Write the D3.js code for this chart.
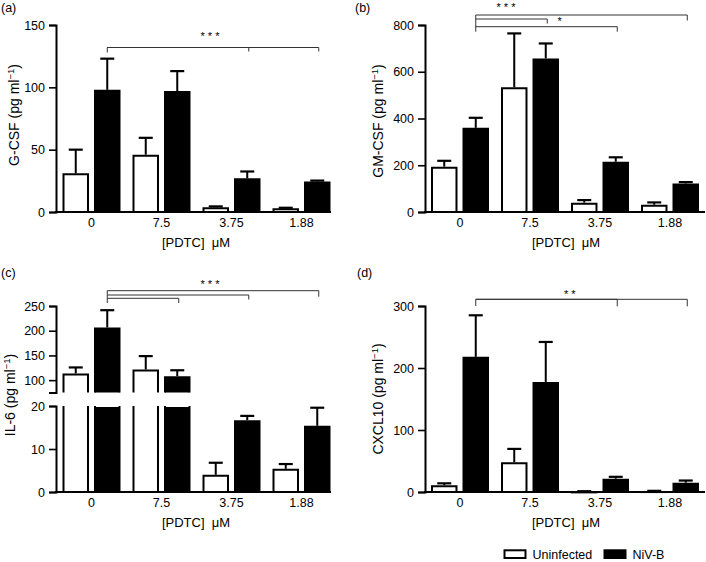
<!DOCTYPE html>
<html><head><meta charset="utf-8">
<script src="https://cdn.jsdelivr.net/npm/d3@7"></script>
<style>
body{margin:0;background:#fff}
svg text{font-family:"Liberation Sans",Arial,Helvetica,sans-serif;fill:#000}
</style>
</head><body>
<svg id="chart" width="706" height="562"></svg>
<script>
// ---------------- data ----------------
const categories = ["0", "7.5", "3.75", "1.88"];
const seriesNames = ["Uninfected", "NiV-B"];

const gcsfUninf    = [31, 46, 3.8, 3];
const gcsfUninfErr = [50, 59.5, 4.5, 3.4];
const gcsfNiv      = [98, 97, 27, 24.5];
const gcsfNivErr   = [123, 113, 32.5, 25.2];
const gcsfTicks    = [0, 50, 100, 150];

const gmcsfUninf    = [194, 534, 40, 31];
const gmcsfUninfErr = [219, 764, 51, 41];
const gmcsfNiv      = [360, 657, 215, 122];
const gmcsfNivErr   = [403, 721, 234, 128];
const gmcsfTicks    = [0, 200, 400, 600, 800];

const il6Uninf    = [113.5, 121.5, 4, 5.4];
const il6UninfErr = [125.7, 148.6, 6.8, 6.5];
const il6Niv      = [206.5, 108, 16.7, 15.4];
const il6NivErr   = [241.5, 120, 17.7, 19.6];
const il6TicksLow  = [0, 10, 20];
const il6TicksHigh = [100, 150, 200, 250];

const cxclUninf    = [10.8, 48, 1, 1.5];
const cxclUninfErr = [14, 69.5, 1.3, 1.9];
const cxclNiv      = [218, 177.5, 21.5, 15];
const cxclNivErr   = [285, 242, 24.5, 18.5];
const cxclTicks    = [0, 100, 200, 300];

// ---------------- drawing ----------------
const svg = d3.select("#chart");
const FONT_TICK = 12.5, FONT_LABEL = 13, FONT_YLABEL = 14;

function drawPanel(cfg) {
  const g = svg.append("g");
  const base = cfg.segments[0].range[0];

  const segs = cfg.segments.map(s => ({
    ...s,
    y: d3.scaleLinear().domain(s.domain).range(s.range)
  }));
  function segFor(v) {
    if (v <= segs[0].domain[1]) return segs[0];
    let s = segs[0];
    segs.forEach(sg => { if (v > sg.domain[0]) s = sg; });
    return s;
  }
  const yOf = v => segFor(v).y(v);

  const x0 = d3.scaleBand().domain(categories)
    .range([cfg.barStart, cfg.barStart + 268]).paddingInner(12 / 70).paddingOuter(0);
  const x1 = d3.scaleBand().domain(seriesNames)
    .range([0, x0.bandwidth()]).paddingInner(0.159).paddingOuter(0);

  const rows = [];
  categories.forEach((c, i) => {
    rows.push({cat: c, s: seriesNames[0], v: cfg.uninf[i], e: cfg.uninfErr[i]});
    rows.push({cat: c, s: seriesNames[1], v: cfg.niv[i], e: cfg.nivErr[i]});
  });

  // error bars
  rows.forEach(r => {
    const cx = x0(r.cat) + x1(r.s) + x1.bandwidth() / 2;
    const yt = yOf(r.v), ye = yOf(r.e);
    g.append("line").attr("x1", cx).attr("x2", cx).attr("y1", yt).attr("y2", ye)
      .attr("stroke", "#000").attr("stroke-width", 2);
    g.append("line").attr("x1", cx - 7).attr("x2", cx + 7).attr("y1", ye).attr("y2", ye)
      .attr("stroke", "#000").attr("stroke-width", 2.2);
  });

  // bars (possibly broken across segments)
  rows.forEach(r => {
    const isWhite = r.s === seriesNames[0];
    const xl = x0(r.cat) + x1(r.s) + 1, xr = xl + x1.bandwidth() - 2;
    segs.forEach((sg, si) => {
      if (r.v <= sg.domain[0] && si > 0) return;
      const topV = Math.min(r.v, sg.domain[1]);
      const yBot = sg.y(sg.domain[0]);
      const yTop = sg.y(topV) + 1;
      const closedTop = r.v <= sg.domain[1];
      g.append("rect").attr("x", xl).attr("y", Math.min(yTop, yBot))
        .attr("width", xr - xl).attr("height", Math.abs(yBot - yTop))
        .attr("fill", isWhite ? "#fff" : "#000");
      const p = d3.path();
      if (closedTop) {
        p.moveTo(xl, yBot); p.lineTo(xl, yTop); p.lineTo(xr, yTop); p.lineTo(xr, yBot);
        if (si === 0) p.closePath();
      } else {
        p.moveTo(xl, yBot); p.lineTo(xl, sg.y(sg.domain[1]));
        p.moveTo(xr, yBot); p.lineTo(xr, sg.y(sg.domain[1]));
      }
      g.append("path").attr("d", p.toString()).attr("fill", "none")
        .attr("stroke", "#000").attr("stroke-width", 2).attr("stroke-linejoin", "miter");
    });
  });

  // y axes
  segs.forEach(sg => {
    const ax = g.append("g").attr("transform", `translate(${cfg.axisX},0)`)
      .call(d3.axisLeft(sg.y).tickValues(sg.ticks).tickSize(7).tickSizeOuter(7).tickPadding(4));
    ax.select(".domain").attr("stroke", "#000").attr("stroke-width", 2);
    ax.selectAll(".tick line").attr("stroke", "#000").attr("stroke-width", 1.6);
    ax.selectAll(".tick text").attr("font-size", FONT_TICK)
      .attr("font-family", '"Liberation Sans",Arial,sans-serif').attr("fill", "#000");
  });

  // x axis
  g.append("line").attr("x1", cfg.axisX - 1).attr("x2", cfg.axisEnd)
    .attr("y1", base).attr("y2", base).attr("stroke", "#000").attr("stroke-width", 2);
  const xa = g.append("g").attr("transform", `translate(0,${base})`)
    .call(d3.axisBottom(x0).tickSize(0).tickPadding(6));
  xa.select(".domain").remove();
  xa.selectAll(".tick text").attr("font-size", FONT_TICK)
    .attr("font-family", '"Liberation Sans",Arial,sans-serif').attr("fill", "#000");

  // x label
  g.append("text").attr("x", cfg.xLabelX).attr("y", base + 35)
    .attr("text-anchor", "middle").attr("font-size", FONT_LABEL)
    .text("[PDTC]\u00a0\u00a0\u03bcM");

  // y label
  const yl = g.append("text")
    .attr("transform", `translate(${cfg.yLabelX},${cfg.yLabelY}) rotate(-90)`)
    .attr("text-anchor", "middle").attr("font-size", FONT_YLABEL);
  yl.append("tspan").text(cfg.yLabel + " (pg ml");
  yl.append("tspan").attr("font-size", 9.5).attr("dy", -5.5).text("\u22121");
  yl.append("tspan").attr("dy", 5.5).text(")");

  // panel letter
  g.append("text").attr("x", cfg.letterX).attr("y", cfg.letterY)
    .attr("font-size", 12.5).text(cfg.letter);

  // significance brackets
  const blackCenter = c => x0(c) + x1(seriesNames[1]) + x1.bandwidth() / 2;
  const xL = blackCenter(categories[0]);
  const bg = g.append("g").attr("stroke", "#333").attr("stroke-width", 1).attr("fill", "none");
  cfg.brackets.forEach(b => {
    const xR = blackCenter(b.to) + 1.5;
    bg.append("path").attr("d", `M${xL},${b.y}H${xR}V${b.y + b.drop}`);
  });
  bg.append("line").attr("x1", xL).attr("x2", xL)
    .attr("y1", d3.min(cfg.brackets, b => b.y)).attr("y2", cfg.leftBottom);
  cfg.stars.forEach(s => {
    g.append("text").attr("x", s.x).attr("y", s.y).attr("text-anchor", "middle")
      .attr("font-size", 11).text(s.t);
  });
}

// (a)
drawPanel({
  letter: "(a)", letterX: 1, letterY: 12,
  yLabel: "G-CSF", yLabelX: 19, yLabelY: 115,
  uninf: gcsfUninf, uninfErr: gcsfUninfErr, niv: gcsfNiv, nivErr: gcsfNivErr,
  segments: [{domain: [0, 150], range: [212, 25], ticks: gcsfTicks}],
  axisX: 56, barStart: 62.5, axisEnd: 331, xLabelX: 196,
  brackets: [{to: "3.75", y: 47.5, drop: 4}, {to: "1.88", y: 47.5, drop: 4}],
  leftBottom: 52.5,
  stars: [{t: "* * *", x: 210, y: 40}]
});
// (b)
drawPanel({
  letter: "(b)", letterX: 355, letterY: 12,
  yLabel: "GM-CSF", yLabelX: 383, yLabelY: 121,
  uninf: gmcsfUninf, uninfErr: gmcsfUninfErr, niv: gmcsfNiv, nivErr: gmcsfNivErr,
  segments: [{domain: [0, 800], range: [212, 25], ticks: gmcsfTicks}],
  axisX: 425, barStart: 431, axisEnd: 705, xLabelX: 566,
  brackets: [{to: "1.88", y: 15, drop: 5.5}, {to: "7.5", y: 19, drop: 4.5}, {to: "3.75", y: 26.7, drop: 5}],
  leftBottom: 31.7,
  stars: [{t: "* * *", x: 506, y: 11}, {t: "*", x: 559.7, y: 25}]
});
// (c)
drawPanel({
  letter: "(c)", letterX: 1, letterY: 277,
  yLabel: "IL-6", yLabelX: 15, yLabelY: 395,
  uninf: il6Uninf, uninfErr: il6UninfErr, niv: il6Niv, nivErr: il6NivErr,
  segments: [{domain: [0, 20], range: [492, 406], ticks: il6TicksLow},
             {domain: [75, 250], range: [392.5, 306], ticks: il6TicksHigh}],
  axisX: 56, barStart: 62.5, axisEnd: 331, xLabelX: 196,
  brackets: [{to: "1.88", y: 290.7, drop: 6}, {to: "3.75", y: 295, drop: 4.5}, {to: "7.5", y: 298.3, drop: 4.7}],
  leftBottom: 303,
  stars: [{t: "* * *", x: 210, y: 288}]
});
// (d)
drawPanel({
  letter: "(d)", letterX: 357, letterY: 277,
  yLabel: "CXCL10", yLabelX: 383, yLabelY: 399,
  uninf: cxclUninf, uninfErr: cxclUninfErr, niv: cxclNiv, nivErr: cxclNivErr,
  segments: [{domain: [0, 300], range: [492, 306], ticks: cxclTicks}],
  axisX: 425, barStart: 431, axisEnd: 705, xLabelX: 566,
  brackets: [{to: "3.75", y: 299.3, drop: 7}, {to: "1.88", y: 299.3, drop: 7}],
  leftBottom: 306,
  stars: [{t: "* *", x: 569.7, y: 298}]
});

// legend
const lg = svg.append("g");
const legendItems = [
  {name: seriesNames[0], fill: "#fff", x: 504.5},
  {name: seriesNames[1], fill: "#000", x: 604.5}
];
legendItems.forEach(it => {
  lg.append("rect").attr("x", it.x).attr("y", 550.3).attr("width", 21).attr("height", 7.7)
    .attr("fill", it.fill).attr("stroke", "#000").attr("stroke-width", 2);
  lg.append("text").attr("x", it.x + 28).attr("y", 558.5).attr("font-size", 12.5).text(it.name);
});
</script>
</body></html>
